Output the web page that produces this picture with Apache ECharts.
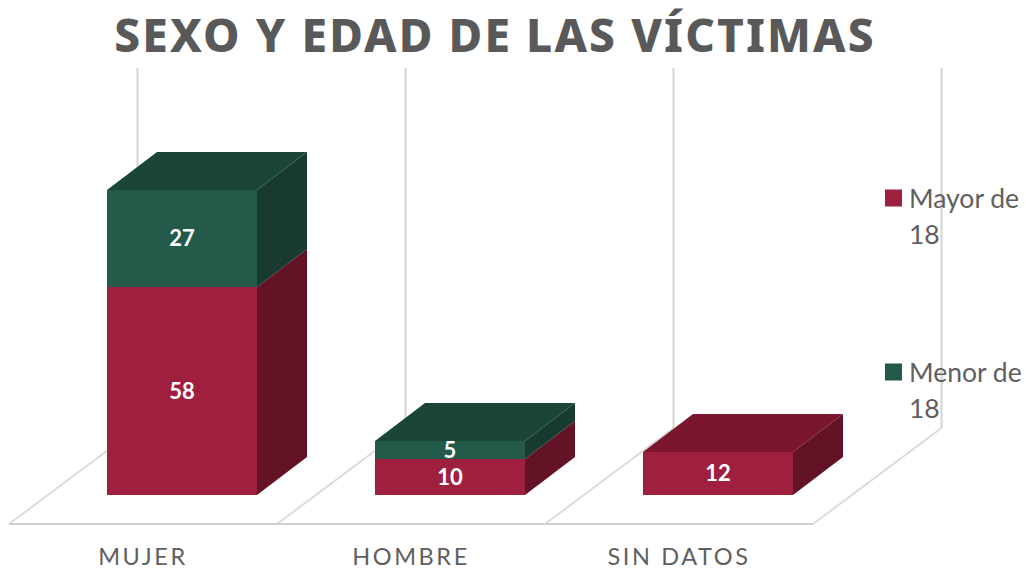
<!DOCTYPE html>
<html><head><meta charset="utf-8">
<style>
html,body{margin:0;padding:0;background:#fff}
#c{width:1026px;height:569px}
text[style*="46px"]{letter-spacing:2.1px}
text[style*="23.5px"]{letter-spacing:2.6px}
</style>
<script src="https://cdn.jsdelivr.net/npm/echarts@6/dist/echarts.min.js"></script>
</head><body><div id="c"></div>
<script>
const categories = ['MUJER', 'HOMBRE', 'SIN DATOS'];
const mayorDe18 = [58, 10, 12];
const menorDe18 = [27, 5, 0];
const titleText = 'SEXO Y EDAD DE LAS VÍCTIMAS';
const FONT = '"Noto Sans"', BODY_FONT = 'Lato';
const FLOOR = [128.5, -96], BAR_SHIFT = [39, -29.5], DEPTH = [50, -38];
const BAR_RATIO = 0.56;

function wallItem(params, api) {
  const i = api.value(0);
  const bw = api.size([1, 0])[0];
  const base = api.coord([i, 0]), top = api.coord([i, 100.6]);
  const lineStyle = { stroke: '#D4D4D4', lineWidth: 2, fill: null };
  const children = [];
  const addEdge = (x) => {
    children.push({ type: 'line', shape: { x1: x, y1: base[1], x2: x + FLOOR[0], y2: base[1] + FLOOR[1] }, style: { stroke: '#DCDCDC', lineWidth: 2 } });
    children.push({ type: 'line', shape: { x1: x + FLOOR[0], y1: base[1] + FLOOR[1], x2: x + FLOOR[0], y2: top[1] + FLOOR[1] }, style: lineStyle });
  };
  addEdge(base[0] - bw / 2);
  if (i === categories.length - 1) addEdge(base[0] + bw / 2);
  children.push({ type: 'line', shape: { x1: base[0] - bw / 2, y1: base[1], x2: base[0] + bw / 2, y2: base[1] }, style: { stroke: '#D0D0D0', lineWidth: 2 } });
  return { type: 'group', children };
}

function barRenderer(colors, drawTop) {
  return function (params, api) {
    const i = api.value(0), from = api.value(1), to = api.value(2);
    if (to === from) return null;
    const w = Math.round(api.size([1, 0])[0] * BAR_RATIO);
    const a = api.coord([i, from]), b = api.coord([i, to]);
    const x0 = Math.round(a[0] + BAR_SHIFT[0] - w / 2), x1 = x0 + w;
    const y0 = Math.round(a[1] + BAR_SHIFT[1]), y1 = Math.round(b[1] + BAR_SHIFT[1]);
    const children = [
      { type: 'rect', shape: { x: x0, y: y1, width: w, height: y0 - y1 }, style: { fill: colors.front } },
      { type: 'polygon', shape: { points: [[x1, y0], [x1 + DEPTH[0], y0 + DEPTH[1]], [x1 + DEPTH[0], y1 + DEPTH[1]], [x1, y1]] }, style: { fill: colors.side } }
    ];
    if (drawTop(i)) {
      children.push({ type: 'polygon', shape: { points: [[x0, y1], [x1, y1], [x1 + DEPTH[0], y1 + DEPTH[1]], [x0 + DEPTH[0], y1 + DEPTH[1]]] }, style: { fill: colors.top } });
    }
    children.push({ type: 'text', style: { text: String(to - from), x: (x0 + x1) / 2, y: (y0 + y1) / 2 - 1, align: 'center', verticalAlign: 'middle', fill: '#fff', font: 'bold 22px ' + BODY_FONT, lineHeight: 22 } });
    return { type: 'group', children };
  };
}

const legendIcon = 'path://M0,0H17V17H0Z M0,53L0,53Z';
const chart = echarts.init(document.getElementById('c'), null, { renderer: 'svg', width: 1026, height: 569 });
chart.setOption({
  animation: false,
  title: { text: titleText, left: 490, textAlign: 'center', top: 6, textStyle: { color: '#595959', fontFamily: FONT, fontWeight: 800, fontSize: 46 } },
  legend: {
    orient: 'vertical', left: 885, top: 180, padding: 0, itemGap: 102, itemWidth: 17, itemHeight: 53, icon: legendIcon, selectedMode: false,
    data: ['Mayor de 18', 'Menor de 18'],
    formatter: (n) => n.replace(' 18', '\n18'),
    textStyle: { color: '#5F5F5F', fontFamily: BODY_FONT, fontSize: 26.5, lineHeight: 36, padding: [0, 0, 0, 2] }, itemStyle: { borderWidth: 0 }
  },
  grid: { left: 9, right: 213, bottom: 45, top: 164 },
  xAxis: { type: 'category', data: categories, axisLine: { show: false }, axisTick: { show: false }, axisLabel: { color: '#5F5F5F', fontFamily: BODY_FONT, fontSize: 23.5, margin: 20 } },
  yAxis: { type: 'value', min: 0, max: 100.6, show: false, splitLine: { show: false } },
  series: [
    { type: 'custom', name: 'walls', silent: true, z: 1, renderItem: wallItem, encode: { x: 0, y: 1 }, data: categories.map((c, i) => [i, 0]) },
    { type: 'custom', name: 'Mayor de 18', z: 2, itemStyle: { color: '#9E1F3E' }, encode: { x: 0, y: [1, 2] },
      renderItem: barRenderer({ front: '#9E1F3E', side: '#641326', top: '#7A172F' }, (i) => menorDe18[i] === 0),
      data: categories.map((c, i) => [i, 0, mayorDe18[i]]) },
    { type: 'custom', name: 'Menor de 18', z: 3, itemStyle: { color: '#245A49' }, encode: { x: 0, y: [1, 2] },
      renderItem: barRenderer({ front: '#245A49', side: '#183A30', top: '#1C453A' }, () => true),
      data: categories.map((c, i) => [i, mayorDe18[i], mayorDe18[i] + menorDe18[i]]) }
  ]
});
</script></body></html>
